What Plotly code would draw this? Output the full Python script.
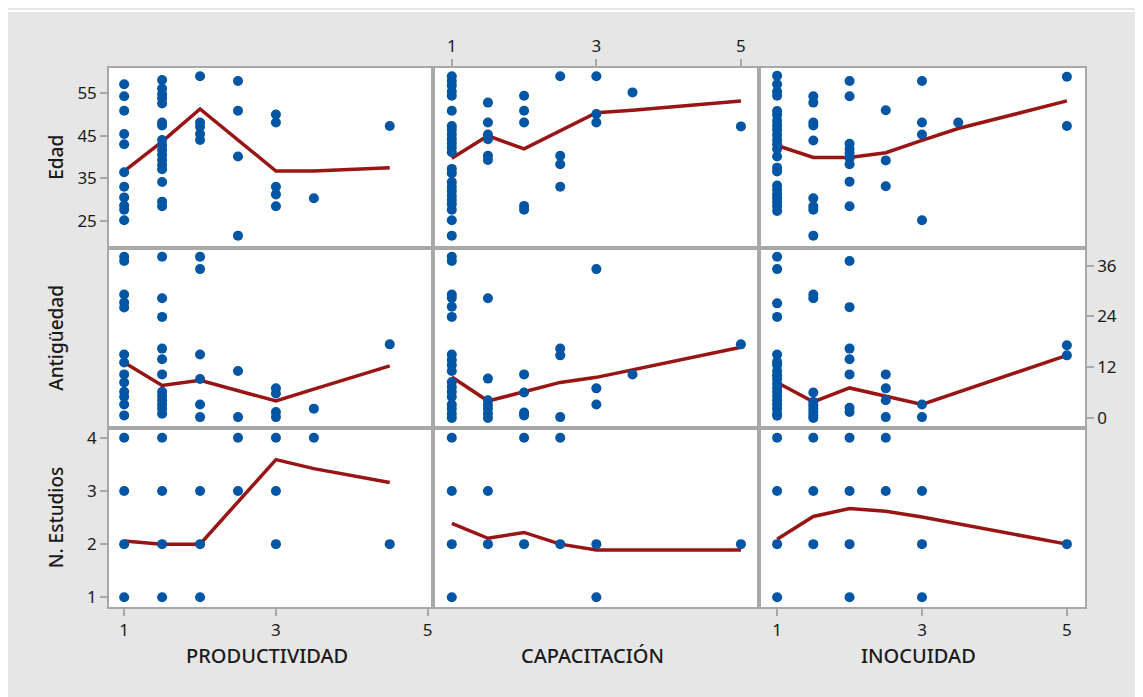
import plotly.graph_objects as go

# ---------------- data ----------------
x_labels = ["PRODUCTIVIDAD", "CAPACITACIÓN", "INOCUIDAD"]
y_labels = ["Edad", "Antigüedad", "N. Estudios"]

# Row 1: Edad
edad_prod_x = [1]*11 + [1.5]*17 + [2]*5 + [2.5]*4 + [3]*5 + [3.5] + [4.5]
edad_prod_y = [57.1, 54.3, 50.9, 45.4, 43.0, 36.4, 33.0, 30.5, 28.6, 27.6, 25.1,
               58.1, 56.1, 54.8, 53.8, 52.6, 48.1, 47.4, 44.0, 42.8, 41.7, 40.5, 39.3, 38.1, 37.1, 34.1, 29.5, 28.4,
               59.0, 48.1, 47.1, 45.4, 44.0,
               57.9, 50.9, 40.1, 21.5,
               50.0, 48.1, 33.0, 31.2, 28.4,
               30.3,
               47.3]
edad_prod_fit_x = [1, 1.5, 2, 3, 3.5, 4.5]
edad_prod_fit_y = [36.7, 43.6, 51.3, 36.7, 36.7, 37.5]

edad_cap_x = [1]*24 + [1.5]*6 + [2]*5 + [2.5]*4 + [3]*3 + [3.5] + [5]
edad_cap_y = [59.0, 57.9, 56.8, 55.4, 54.4, 50.9, 47.3, 46.4, 45.3, 44.2, 43.2, 42.2, 41.1, 37.2, 36.2, 34.1,
              33.0, 32.0, 30.9, 29.9, 28.9, 27.6, 25.1, 21.5,
              52.8, 48.1, 45.3, 44.2, 40.3, 39.3,
              54.4, 50.9, 48.1, 28.5, 27.6,
              59.0, 40.3, 38.3, 33.0,
              59.0, 50.1, 48.1,
              55.2,
              47.2]
edad_cap_fit_x = [1, 1.5, 2, 2.5, 3, 3.5, 5]
edad_cap_fit_y = [39.7, 45.0, 41.9, 46.2, 50.4, 51.0, 53.2]

edad_ino_x = [1]*23 + [1.5]*9 + [2]*9 + [2.5]*3 + [3]*4 + [3.5] + [5]*2
edad_ino_y = [59.1, 57.1, 55.4, 54.4, 50.8, 49.9, 48.5, 47.4, 46.4, 45.2, 44.0, 43.0, 41.9, 40.1, 37.5, 36.6,
              33.3, 32.3, 31.2, 30.3, 29.4, 28.4, 27.3,
              54.3, 52.8, 48.1, 47.4, 43.9, 30.3, 28.4, 27.6, 21.5,
              57.9, 54.3, 43.1, 41.9, 40.9, 39.7, 38.3, 34.2, 28.4,
              51.0, 39.2, 33.1,
              57.9, 48.1, 45.3, 25.1,
              48.1,
              58.9, 47.3]
edad_ino_fit_x = [1, 1.5, 2, 2.5, 3, 3.5, 5]
edad_ino_fit_y = [42.7, 39.9, 39.9, 41.0, 43.9, 46.7, 53.2]

# Row 2: Antigüedad
ant_prod_x = [1]*13 + [1.5]*12 + [2]*6 + [2.5]*2 + [3]*4 + [3.5] + [4.5]
ant_prod_y = [38.1, 37.1, 29.2, 27.3, 26.1, 15.0, 13.1, 10.3, 8.4, 6.2, 5.0, 3.2, 0.6,
              38.1, 28.3, 23.9, 16.4, 13.9, 10.3, 6.2, 5.2, 4.2, 3.2, 2.2, 1.0,
              38.1, 35.2, 15.0, 9.2, 3.2, 0.2,
              11.1, 0.2,
              7.0, 5.8, 1.4, 0.2,
              2.2,
              17.4]
ant_prod_fit_x = [1, 1.5, 2, 3, 3.5, 4.5]
ant_prod_fit_y = [13.1, 7.7, 8.9, 4.0, 6.8, 12.3]

ant_cap_x = [1]*18 + [1.5]*7 + [2]*4 + [2.5]*3 + [3]*3 + [3.5] + [5]
ant_cap_y = [38.1, 37.1, 29.2, 28.4, 26.3, 23.9, 15.0, 13.7, 12.5, 11.1, 8.5, 7.3, 6.2, 5.0, 3.2, 2.2, 1.0, 0.0,
             28.3, 9.3, 4.2, 3.2, 2.2, 1.0, 0.0,
             10.3, 6.0, 1.3, 0.6,
             16.4, 14.8, 0.2,
             35.2, 7.0, 3.2,
             10.3,
             17.4]
ant_cap_fit_x = [1, 1.5, 2, 2.5, 3, 3.5, 5]
ant_cap_fit_y = [9.7, 4.0, 6.2, 8.4, 9.6, 11.4, 16.7]

ant_ino_x = [1]*19 + [1.5]*9 + [2]*7 + [2.5]*4 + [3]*2 + [5]*2
ant_ino_y = [38.1, 35.2, 27.1, 23.9, 15.0, 13.3, 12.5, 11.1, 10.1, 9.2, 8.1, 7.1, 6.2, 5.2, 4.2, 3.2, 2.2, 1.0, 0.5,
             29.2, 28.3, 6.0, 3.8, 3.0, 2.2, 1.4, 0.6, 0.0,
             37.1, 26.2, 16.4, 13.9, 10.3, 2.4, 1.4,
             10.3, 7.0, 4.2, 0.2,
             3.2, 0.2,
             17.2, 14.8]
ant_ino_fit_x = [1, 1.5, 2, 2.5, 3, 5]
ant_ino_fit_y = [8.4, 3.8, 7.1, 5.2, 3.2, 14.8]

# Row 3: N. Estudios
est_prod_x = [1, 1, 1, 1, 1.5, 1.5, 1.5, 1.5, 2, 2, 2, 2.5, 2.5, 3, 3, 3, 3.5, 4.5]
est_prod_y = [4, 3, 2, 1, 4, 3, 2, 1, 3, 2, 1, 4, 3, 4, 3, 2, 4, 2]
est_prod_fit_x = [1, 1.5, 2, 2.5, 3, 3.5, 4.5]
est_prod_fit_y = [2.06, 2.0, 2.0, 2.8, 3.59, 3.42, 3.16]

est_cap_x = [1, 1, 1, 1, 1.5, 1.5, 2, 2, 2.5, 2.5, 3, 3, 5]
est_cap_y = [4, 3, 2, 1, 3, 2, 4, 2, 4, 2, 2, 1, 2]
est_cap_fit_x = [1, 1.5, 2, 2.5, 3, 5]
est_cap_fit_y = [2.39, 2.11, 2.22, 2.0, 1.89, 1.89]

est_ino_x = [1, 1, 1, 1, 1.5, 1.5, 1.5, 2, 2, 2, 2, 2.5, 2.5, 3, 3, 3, 5]
est_ino_y = [4, 3, 2, 1, 4, 3, 2, 4, 3, 2, 1, 4, 3, 3, 2, 1, 2]
est_ino_fit_x = [1, 1.5, 2, 2.5, 3, 5]
est_ino_fit_y = [2.09, 2.52, 2.67, 2.62, 2.51, 2.0]

x_ticks = [1, 3, 5]
edad_ticks = [25, 35, 45, 55]
ant_ticks = [0, 12, 24, 36]
est_ticks = [1, 2, 3, 4]

# ---------------- figure ----------------
# page body has an 8px margin: the figure sits at (8, 8) in the window
OFF = 8
W, H = 1143 - OFF, 697 - OFF
BLUE = "#0055a5"
RED = "#991515"
AXC = "#a8a8a8"
FONT = "Noto Sans"


def px(v):
    return (v - OFF) / W


def py(v):
    return 1 - (v - OFF) / H


panels = [
    [(edad_prod_x, edad_prod_y, edad_prod_fit_x, edad_prod_fit_y),
     (edad_cap_x, edad_cap_y, edad_cap_fit_x, edad_cap_fit_y),
     (edad_ino_x, edad_ino_y, edad_ino_fit_x, edad_ino_fit_y)],
    [(ant_prod_x, ant_prod_y, ant_prod_fit_x, ant_prod_fit_y),
     (ant_cap_x, ant_cap_y, ant_cap_fit_x, ant_cap_fit_y),
     (ant_ino_x, ant_ino_y, ant_ino_fit_x, ant_ino_fit_y)],
    [(est_prod_x, est_prod_y, est_prod_fit_x, est_prod_fit_y),
     (est_cap_x, est_cap_y, est_cap_fit_x, est_cap_fit_y),
     (est_ino_x, est_ino_y, est_ino_fit_x, est_ino_fit_y)],
]

col_px = [(109, 433), (433, 759), (759, 1085)]
row_px = [(66, 247), (247, 427.5), (427.5, 607.5)]
col_ranges = [[0.8, 5.07], [0.74, 5.25], [0.75, 5.25]]
row_ranges = [[18.6, 61.0], [-2.3, 40.2], [0.82, 4.19]]

fig = go.Figure()
layout = {}
for r in range(3):
    for c in range(3):
        n = r * 3 + c + 1
        xs, ys, fx, fy = panels[r][c]
        xa = "x" if n == 1 else f"x{n}"
        ya = "y" if n == 1 else f"y{n}"
        fig.add_trace(go.Scatter(x=fx, y=fy, mode="lines", xaxis=xa, yaxis=ya,
                                 line=dict(color=RED, width=3.5), showlegend=False,
                                 hoverinfo="skip"))
        fig.add_trace(go.Scatter(x=xs, y=ys, mode="markers", xaxis=xa, yaxis=ya,
                                 marker=dict(color=BLUE, size=10, line=dict(width=0)),
                                 showlegend=False))
        xd = [px(col_px[c][0]), px(col_px[c][1])]
        yd = [py(row_px[r][1]), py(row_px[r][0])]
        xaxis = dict(domain=xd, range=col_ranges[c], anchor=ya, showgrid=False,
                     zeroline=False, showline=True, mirror=True, linecolor=AXC,
                     linewidth=1.5, showticklabels=False, ticks="", fixedrange=True)
        yaxis = dict(domain=yd, range=row_ranges[r], anchor=xa, showgrid=False,
                     zeroline=False, showline=True, mirror=True, linecolor=AXC,
                     linewidth=1.5, showticklabels=False, ticks="", fixedrange=True)
        tick_style = dict(ticks="outside", ticklen=7, tickwidth=1.5, tickcolor=AXC,
                          showticklabels=True,
                          tickfont=dict(family=FONT, size=17, color="#1a1a1a"))
        if r == 2 and c in (0, 2):
            xaxis.update(tick_style, tickvals=x_ticks, side="bottom")
        if r == 0 and c == 1:
            xaxis.update(tick_style, tickvals=x_ticks, side="top")
        if c == 0 and r == 0:
            yaxis.update(tick_style, tickvals=edad_ticks, side="left")
        if c == 0 and r == 2:
            yaxis.update(tick_style, tickvals=est_ticks, side="left")
        if c == 2 and r == 1:
            yaxis.update(tick_style, tickvals=ant_ticks, side="right")
        layout["xaxis" if n == 1 else f"xaxis{n}"] = xaxis
        layout["yaxis" if n == 1 else f"yaxis{n}"] = yaxis

annotations = []
for c, lab in enumerate(x_labels):
    annotations.append(dict(text=lab, xref="paper", yref="paper",
                            x=px((col_px[c][0] + col_px[c][1]) / 2 - 4), y=py(656),
                            showarrow=False, xanchor="center", yanchor="middle",
                            font=dict(family=FONT, size=20, color="#1a1a1a", weight=500)))
for r, lab in enumerate(y_labels):
    annotations.append(dict(text=lab, xref="paper", yref="paper",
                            x=px(56), y=py((row_px[r][0] + row_px[r][1]) / 2),
                            showarrow=False, xanchor="center", yanchor="middle",
                            textangle=-90,
                            font=dict(family=FONT, size=19, color="#1a1a1a", weight=500)))

shapes = [
    dict(type="rect", xref="paper", yref="paper", x0=0, x1=1, y0=py(10), y1=1,
         fillcolor="white", line=dict(width=0), layer="below"),
]

fig.update_layout(
    width=W, height=H,
    margin=dict(l=0, r=0, t=0, b=0),
    paper_bgcolor="#e6e6e6",
    plot_bgcolor="white",
    font=dict(family=FONT),
    annotations=annotations,
    shapes=shapes,
    **layout,
)

fig.write_html("out.html")
